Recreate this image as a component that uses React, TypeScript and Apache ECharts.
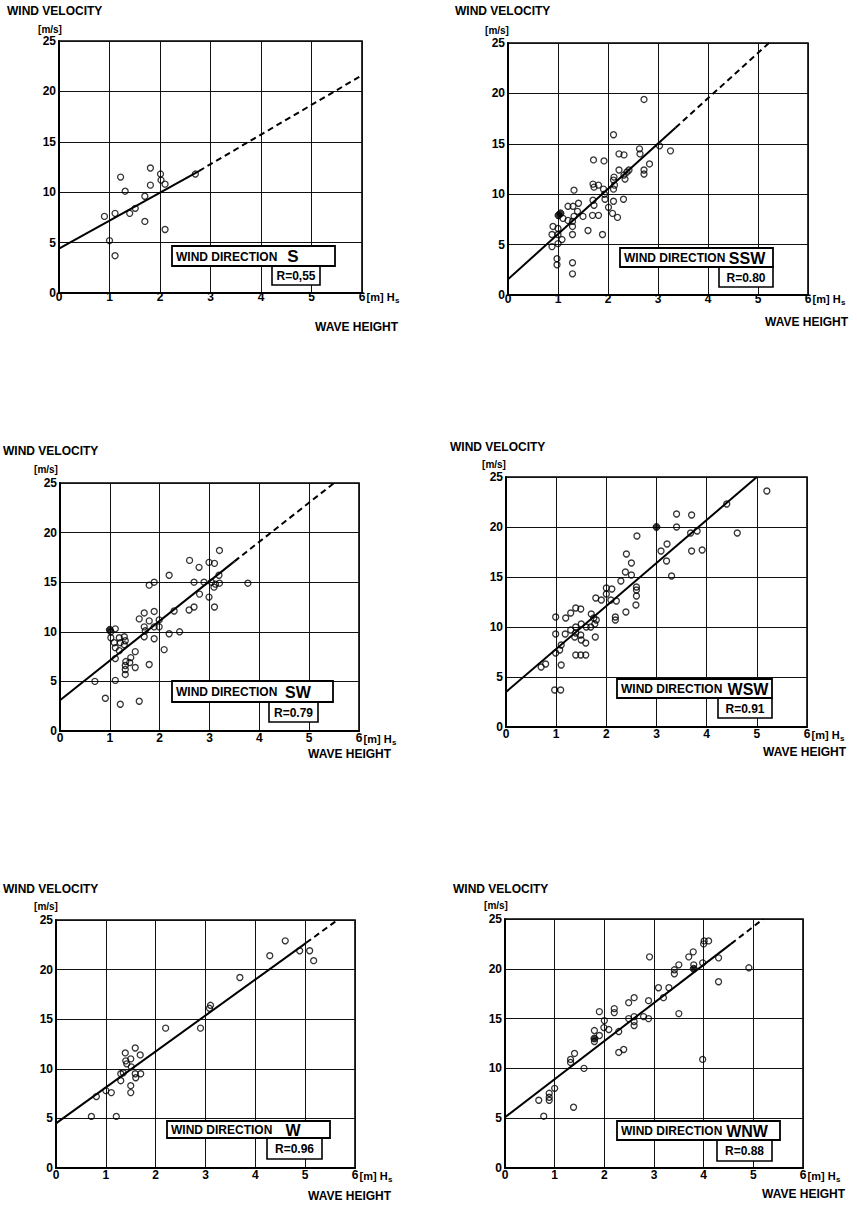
import React, { useEffect, useRef } from "react";
import * as echarts from "echarts";

// ---------- data ----------
const directions = ["S", "SSW", "SW", "WSW", "W", "WNW"];
const correlations = ["R=0,55", "R=0.80", "R=0.79", "R=0.91", "R=0.96", "R=0.88"];

const pointsS: number[][] = [
  [0.9, 7.6], [1.11, 7.9], [1.0, 5.2], [1.11, 3.7], [1.22, 11.5], [1.31, 10.1], [1.4, 7.9],
  [1.51, 8.4], [1.7, 9.6], [1.7, 7.1], [1.81, 12.4], [1.81, 10.7], [2.01, 11.8], [2.02, 11.2],
  [2.1, 10.8], [2.1, 6.3], [2.7, 11.8],
];
const filledS: number[][] = [];

const pointsSSW: number[][] = [
  [2.72, 19.4], [2.11, 15.9], [2.63, 14.5], [2.64, 14.0], [3.03, 14.8], [3.25, 14.3], [2.22, 14.0],
  [2.32, 13.9], [1.71, 13.4], [1.92, 13.3], [2.83, 13.0], [2.72, 12.4], [2.72, 12.0], [2.42, 12.4],
  [2.38, 12.2], [2.22, 12.4], [2.32, 11.9], [2.34, 11.5], [2.12, 11.7], [2.11, 11.4], [2.13, 10.9],
  [2.11, 10.5], [1.7, 11.0], [1.72, 10.7], [1.81, 10.9], [1.91, 10.5], [1.93, 10.0], [1.32, 10.4],
  [2.31, 9.5], [2.11, 9.3], [1.94, 9.5], [1.7, 9.4], [1.72, 8.9], [2.01, 8.7], [2.09, 8.1],
  [2.19, 7.7], [1.81, 7.9], [1.69, 7.9], [1.6, 6.4], [1.89, 6.0], [1.41, 9.1], [1.3, 8.8],
  [1.2, 8.8], [1.39, 8.3], [1.5, 7.8], [1.32, 7.8], [1.29, 7.3], [1.29, 6.8], [1.29, 6.0],
  [1.1, 7.6], [1.2, 7.4], [0.9, 6.8], [1.0, 6.6], [0.88, 6.0], [1.0, 6.0], [0.88, 4.8],
  [1.08, 5.5], [1.0, 5.1], [0.98, 3.6], [0.98, 3.0], [1.29, 3.2], [1.29, 2.1],
];
const filledSSW: number[][] = [[1.01, 7.9], [1.05, 8.1]];

const pointsSW: number[][] = [
  [3.2, 18.2], [2.6, 17.2], [2.79, 16.5], [2.99, 17.0], [3.1, 16.9], [3.19, 15.7], [2.19, 15.7],
  [1.79, 14.7], [1.89, 15.0], [2.69, 15.0], [2.89, 15.0], [3.04, 15.0], [3.12, 14.8], [3.2, 14.9],
  [3.77, 14.9], [3.09, 14.5], [2.8, 13.8], [2.99, 13.5], [3.1, 12.5], [2.69, 12.5], [2.59, 12.2],
  [2.29, 12.1], [1.89, 12.05], [1.69, 11.9], [1.59, 11.3], [1.79, 11.1], [1.99, 11.2], [1.69, 10.5],
  [1.89, 10.5], [1.99, 10.5], [1.71, 10.1], [2.19, 9.8], [2.4, 10.0], [1.69, 9.5], [1.89, 9.3],
  [2.09, 8.2], [1.79, 6.7], [1.02, 10.0], [1.11, 10.3], [1.02, 9.4], [1.19, 9.4], [1.29, 9.5],
  [1.31, 9.1], [1.09, 8.9], [1.21, 8.9], [1.29, 8.7], [1.11, 8.4], [1.19, 8.1], [1.51, 8.0],
  [1.11, 7.3], [1.42, 7.4], [1.32, 7.0], [1.4, 6.9], [1.31, 6.6], [1.51, 6.4], [1.31, 6.2],
  [1.31, 5.7], [0.7, 5.0], [1.11, 5.1], [0.91, 3.3], [1.21, 2.7], [1.59, 3.0],
];
const filledSW: number[][] = [[1.0, 10.2]];

const pointsWSW: number[][] = [
  [5.2, 23.6], [4.4, 22.3], [3.4, 21.3], [3.7, 21.2], [3.4, 20.0], [3.68, 19.4], [3.81, 19.6],
  [4.61, 19.4], [2.61, 19.1], [3.21, 18.3], [3.09, 17.6], [3.7, 17.6], [3.91, 17.7], [3.2, 16.6],
  [3.3, 15.1], [2.4, 17.3], [2.5, 16.4], [2.38, 15.5], [2.5, 15.2], [2.29, 14.6], [2.6, 14.0],
  [2.6, 13.7], [2.6, 13.1], [2.59, 12.2], [2.39, 11.5], [2.0, 13.9], [2.11, 13.8], [2.0, 13.3],
  [1.79, 12.9], [1.9, 12.7], [2.09, 12.7], [2.2, 12.6], [2.18, 11.0], [2.18, 10.7], [1.7, 11.3],
  [1.39, 11.9], [1.49, 11.8], [1.29, 11.4], [1.19, 10.9], [0.99, 11.0], [1.75, 10.9], [1.8, 10.7],
  [1.77, 10.3], [1.69, 10.0], [1.6, 10.0], [1.5, 10.3], [1.39, 10.0], [1.29, 9.7], [1.39, 9.4],
  [1.49, 9.2], [1.18, 9.3], [0.99, 9.3], [1.37, 9.0], [1.5, 8.7], [1.59, 8.4], [1.78, 9.0],
  [1.1, 8.2], [1.07, 7.7], [0.99, 7.4], [1.39, 7.2], [1.49, 7.2], [1.59, 7.2], [1.1, 6.2],
  [0.79, 6.3], [0.7, 6.0], [0.97, 3.7], [1.09, 3.7],
];
const filledWSW: number[][] = [[3.0, 20.0]];

const pointsW: number[][] = [
  [4.6, 22.9], [4.29, 21.4], [4.89, 21.9], [5.09, 21.9], [5.17, 20.9], [3.69, 19.2], [3.1, 16.4],
  [3.08, 16.1], [2.9, 14.1], [2.2, 14.1], [1.59, 12.1], [1.39, 11.6], [1.69, 11.4], [1.5, 11.0],
  [1.4, 10.8], [1.42, 10.5], [1.51, 10.2], [1.3, 9.5], [1.35, 9.6], [1.59, 9.5], [1.7, 9.5],
  [1.6, 9.1], [1.3, 8.8], [1.5, 8.3], [1.5, 7.6], [1.11, 7.6], [1.0, 7.8], [0.81, 7.2],
  [0.71, 5.2], [1.21, 5.2],
];
const filledW: number[][] = [];

const pointsWNW: number[][] = [
  [4.01, 22.8], [4.1, 22.8], [4.0, 22.5], [2.91, 21.2], [3.7, 21.2], [3.79, 21.7], [4.3, 21.1],
  [3.5, 20.4], [3.41, 19.9], [3.41, 19.5], [3.8, 20.4], [3.98, 20.6], [4.91, 20.1], [4.3, 18.7],
  [3.09, 18.1], [3.3, 18.1], [3.19, 17.1], [2.6, 17.1], [2.49, 16.6], [2.89, 16.8], [2.2, 16.0],
  [2.2, 15.6], [1.9, 15.7], [3.5, 15.5], [2.49, 15.0], [2.6, 15.2], [2.6, 14.7], [2.6, 14.3],
  [2.79, 15.2], [2.89, 15.0], [2.0, 14.8], [1.99, 14.1], [2.09, 13.9], [1.8, 13.8], [2.29, 13.7],
  [1.8, 12.7], [1.9, 13.3], [2.29, 11.6], [2.39, 11.9], [1.4, 11.5], [1.32, 10.9], [1.32, 10.6],
  [1.59, 10.0], [3.98, 10.9], [1.0, 8.0], [0.89, 7.5], [0.89, 7.1], [0.89, 6.8], [0.68, 6.8],
  [1.38, 6.1], [0.78, 5.2],
];
const filledWNW: number[][] = [[1.8, 13.0], [3.8, 20.0]];

// regression lines: solid part and dashed extension (end points)
const fitSolidS = [[0, 4.4], [2.77, 12.1]];
const fitDashS = [[2.77, 12.1], [6, 21.6]];
const fitSolidSSW = [[0, 1.55], [3.35, 16.6]];
const fitDashSSW = [[3.35, 16.6], [5.22, 25]];
const fitSolidSW = [[0, 3.1], [3.5, 17.1]];
const fitDashSW = [[3.5, 17.1], [5.5, 25]];
const fitSolidWSW = [[0, 3.5], [5.0, 25]];
const fitDashWSW: number[][] = [];
const fitSolidW = [[0, 4.5], [5.02, 22.7]];
const fitDashW = [[5.02, 22.7], [5.65, 25]];
const fitSolidWNW = [[0, 5.1], [4.55, 22.5]];
const fitDashWNW = [[4.55, 22.5], [5.2, 25]];

const pointSets = [pointsS, pointsSSW, pointsSW, pointsWSW, pointsW, pointsWNW];
const filledSets = [filledS, filledSSW, filledSW, filledWSW, filledW, filledWNW];
const solidFits = [fitSolidS, fitSolidSSW, fitSolidSW, fitSolidWSW, fitSolidW, fitSolidWNW];
const dashFits = [fitDashS, fitDashSSW, fitDashSW, fitDashWSW, fitDashW, fitDashWNW];

const yTitle = "WIND VELOCITY";
const yUnit = "[m/s]";
const xTitle = "WAVE HEIGHT";

// ---------- layout ----------
const FONT = '"Liberation Sans", Arial, sans-serif';
const layouts = [
  { grid: [59, 41, 303, 252], title: [7, 11], unit: [50, 29], box: [172, 246, 163, 20], dirX: 293, dirSize: 17, rbox: [272, 266, 48, 19], wave: [315, 327], xMargin: -2 },
  { grid: [508, 43, 300, 252], title: [455, 11], unit: [497, 30], box: [620, 248, 153, 19], dirX: 747, dirSize: 16, rbox: [719, 267, 54, 20], wave: [765, 322], xMargin: -2 },
  { grid: [60, 483, 299, 248], title: [3, 451], unit: [46, 469], box: [172, 681, 161, 21], dirX: 298, dirSize: 16, rbox: [269, 702, 49, 20], wave: [308, 754], xMargin: 1 },
  { grid: [506, 477, 301, 250], title: [450, 447], unit: [494, 464], box: [617, 679, 155, 19], dirX: 748, dirSize: 16, rbox: [718, 698, 54, 20], wave: [763, 752], xMargin: 1 },
  { grid: [56, 920, 299, 248], title: [3, 889], unit: [46, 906], box: [167, 1121, 163, 17], dirX: 293, dirSize: 16, rbox: [267, 1138, 55, 21], wave: [308, 1196], xMargin: 1 },
  { grid: [505, 919, 298, 249], title: [453, 889], unit: [496, 905], box: [617, 1121, 163, 19], dirX: 747, dirSize: 16, rbox: [717, 1140, 55, 21], wave: [762, 1194], xMargin: 1 },
];

function txt(x: number, y: number, text: string, size: number, align = "left", extra: any = {}) {
  return {
    type: "text",
    x,
    y,
    z: 20,
    style: {
      text,
      fill: "#000",
      fontSize: size,
      fontWeight: "bold",
      fontFamily: FONT,
      align,
      verticalAlign: "middle",
      ...extra,
    },
  };
}

export default function App() {
  const ref = useRef<HTMLDivElement>(null);

  useEffect(() => {
    if (!ref.current) return;
    const chart = echarts.init(ref.current, undefined, { renderer: "svg" });

    const grids: any[] = [];
    const xAxes: any[] = [];
    const yAxes: any[] = [];
    const series: any[] = [];
    const graphics: any[] = [];

    layouts.forEach((L, i) => {
      const [gl, gt, gw, gh] = L.grid;
      grids.push({ left: gl, top: gt, width: gw, height: gh, show: true, borderColor: "#000", borderWidth: 1.6, backgroundColor: "transparent" });
      const axisCommon = {
        type: "value",
        gridIndex: i,
        axisLine: { show: true, onZero: false, lineStyle: { color: "#000", width: 2 } },
        axisTick: { show: false },
        splitLine: { show: true, lineStyle: { color: "#111", width: 1 } },
      };
      xAxes.push({
        ...axisCommon,
        min: 0,
        max: 6,
        interval: 1,
        axisLabel: { color: "#000", fontSize: 12, fontWeight: "bold", fontFamily: FONT, margin: L.xMargin, showMaxLabel: true, showMinLabel: true },
      });
      yAxes.push({
        ...axisCommon,
        min: 0,
        max: 25,
        interval: 5,
        axisLabel: { color: "#000", fontSize: 12, fontWeight: "bold", fontFamily: FONT, margin: 3, showMaxLabel: true, showMinLabel: true },
      });

      series.push({
        type: "line",
        xAxisIndex: i,
        yAxisIndex: i,
        data: solidFits[i],
        showSymbol: false,
        symbol: "none",
        lineStyle: { color: "#000", width: 2 },
        z: 3,
        silent: true,
      });
      if (dashFits[i].length) {
        series.push({
          type: "line",
          xAxisIndex: i,
          yAxisIndex: i,
          data: dashFits[i],
          showSymbol: false,
          symbol: "none",
          lineStyle: { color: "#000", width: 2, type: [6, 4] },
          z: 3,
          silent: true,
        });
      }
      series.push({
        type: "scatter",
        xAxisIndex: i,
        yAxisIndex: i,
        data: pointSets[i],
        symbol: "circle",
        symbolSize: 6,
        itemStyle: { color: "rgba(255,255,255,0)", borderColor: "#000", borderWidth: 1.3 },
        z: 4,
        silent: true,
      });
      if (filledSets[i].length) {
        series.push({
          type: "scatter",
          xAxisIndex: i,
          yAxisIndex: i,
          data: filledSets[i],
          symbol: "circle",
          symbolSize: 7,
          itemStyle: { color: "#000", borderColor: "#000", borderWidth: 1 },
          z: 4,
          silent: true,
        });
      }

      // titles
      graphics.push(txt(L.title[0], L.title[1], yTitle, 12));
      graphics.push(txt(L.unit[0], L.unit[1], yUnit, 10, "center"));
      graphics.push(txt(gl + gw + 4.5, gt + gh + (L.xMargin < 0 ? 4 : 8), "[m] H", 11));
      graphics.push(txt(gl + gw + 33, gt + gh + (L.xMargin < 0 ? 7 : 11), "s", 8));
      graphics.push(txt(L.wave[0], L.wave[1], xTitle, 12));

      // legend boxes
      const [bx, by, bw, bh] = L.box;
      const [rx, ry, rw, rh] = L.rbox;
      graphics.push({ type: "rect", z: 10, shape: { x: rx, y: ry, width: rw, height: rh }, style: { fill: "#fff", stroke: "#000", lineWidth: 1.6 } });
      graphics.push({ type: "rect", z: 11, shape: { x: bx, y: by, width: bw, height: bh }, style: { fill: "#fff", stroke: "#000", lineWidth: 1.8 } });
      graphics.push(txt(bx + 4, by + bh / 2 + 0.5, "WIND DIRECTION", 12));
      graphics.push(txt(L.dirX, by + bh / 2 + 0.5, directions[i], L.dirSize, "center"));
      graphics.push(txt(rx + rw / 2, ry + rh / 2 + 0.5, correlations[i], 12, "center"));
    });

    chart.setOption({
      animation: false,
      backgroundColor: "#fff",
      grid: grids,
      xAxis: xAxes,
      yAxis: yAxes,
      series,
      graphic: { elements: graphics },
    });

    return () => chart.dispose();
  }, []);

  return (
    <div
      ref={ref}
      style={{ position: "fixed", left: 0, top: 0, width: 857, height: 1205, background: "#fff" }}
    />
  );
}
